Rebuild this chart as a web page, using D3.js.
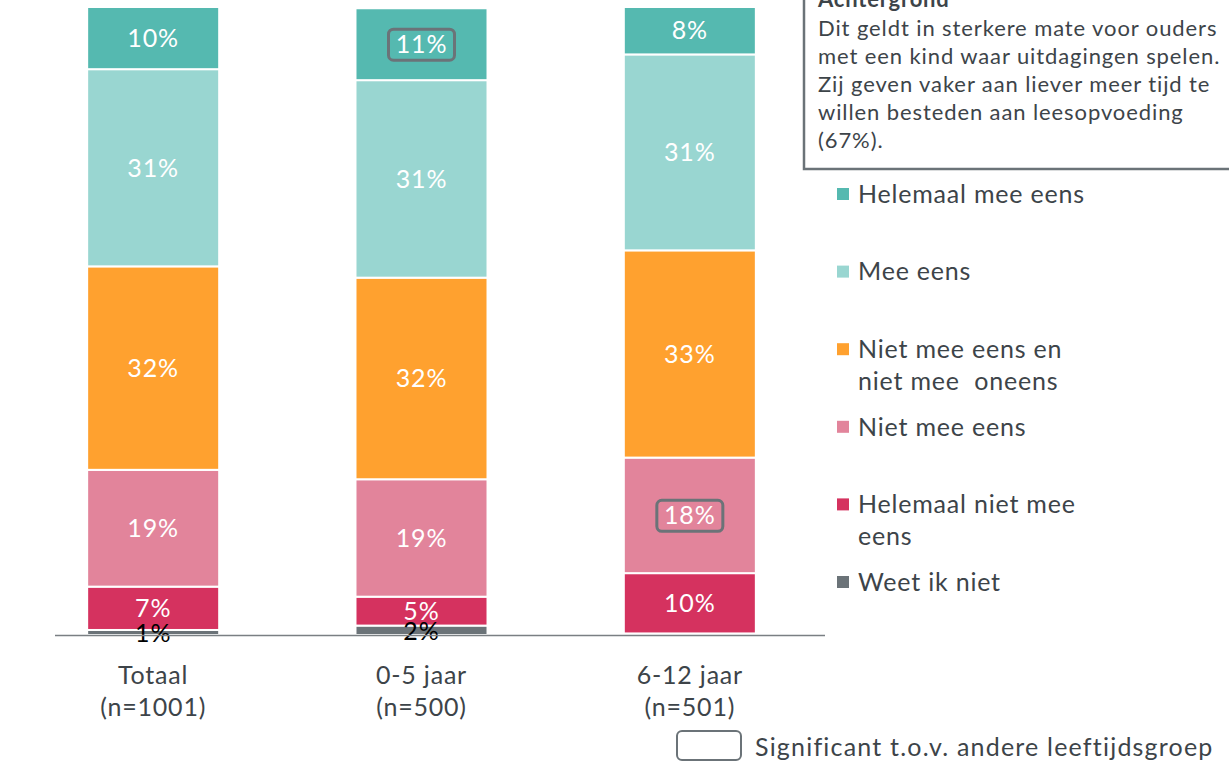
<!DOCTYPE html>
<html>
<head>
<meta charset="utf-8">
<script src="https://cdn.jsdelivr.net/npm/d3@7"></script>
<style>
  body { margin: 0; background: #fff; }
  svg { display: block; font-family: Lato, 'Open Sans', sans-serif; }
  text { white-space: pre; }
</style>
</head>
<body>
<svg id="chart" width="1229" height="761"></svg>
<script>
// data
var categories = ['Totaal', '0-5 jaar', '6-12 jaar']
var sampleSizes = ['(n=1001)', '(n=500)', '(n=501)']

// stacking order: bottom -> top
var seriesNames = [
  'Weet ik niet',
  'Helemaal niet mee eens',
  'Niet mee eens',
  'Niet mee eens en niet mee  oneens',
  'Mee eens',
  'Helemaal mee eens',
]
var legendLines = [
  ['Weet ik niet'],
  ['Helemaal niet mee', 'eens'],
  ['Niet mee eens'],
  ['Niet mee eens en', 'niet mee  oneens'],
  ['Mee eens'],
  ['Helemaal mee eens'],
]
var seriesColors = ['#6b7378', '#d5325f', '#e2849b', '#ffa12f', '#99d6d1', '#55b9b0']

// percentages (unrounded; labels are rounded)
var weetIkNiet      = [0.8, 1.5, 0.25]
var helemaalNiet    = [6.9, 4.6, 9.6]
var nietMeeEens     = [18.6, 18.7, 18.4]
var neutraal        = [32.4, 32.1, 33.0]
var meeEens         = [31.4, 31.45, 31.2]
var helemaalMeeEens = [9.9, 11.45, 7.55]

// labels flagged as significant vs. other age group
var significant = [
  {cat: '0-5 jaar', series: 'Helemaal mee eens'},
  {cat: '6-12 jaar', series: 'Niet mee eens'},
]

var boxTitle = 'Achtergrond'
var boxLines = [
  'Dit geldt in sterkere mate voor ouders',
  'met een kind waar uitdagingen spelen.',
  'Zij geven vaker aan liever meer tijd te',
  'willen besteden aan leesopvoeding',
  '(67%).',
]
var sigLabel = 'Significant t.o.v. andere leeftijdsgroep'

var allValues = [weetIkNiet, helemaalNiet, nietMeeEens, neutraal, meeEens, helemaalMeeEens]

var rows = categories.map((c, i) => {
  var rv = {cat: c}
  seriesNames.forEach((s, j) => rv[s] = allValues[j][i])
  return rv
})

var stacked = d3.stack().keys(seriesNames)(rows)

var textColor = '#3d4449'
var svg = d3.select('#chart')

var x = d3.scaleBand().domain(categories).range([19, 824]).paddingInner(0.508).paddingOuter(0.254)
var y = d3.scaleLinear().domain([0, 100]).range([635, 7])
var color = d3.scaleOrdinal().domain(seriesNames).range(seriesColors)

// bars
var layerSel = svg.append('g').selectAll('g')
  .data(stacked).join('g')
  .attr('fill', d => color(d.key))

layerSel.selectAll('rect')
  .data(d => d.map(v => Object.assign(v, {key: d.key})))
  .join('rect')
  .attr('x', d => x(d.data.cat))
  .attr('width', x.bandwidth())
  .attr('y', d => y(d[1]))
  .attr('height', d => Math.max(0, y(d[0]) - y(d[1])))
  .attr('stroke', '#fff')
  .attr('stroke-width', 2)

// value labels
var labelData = stacked.flatMap(layer => layer.filter(v => v[1] - v[0] >= 0.5))
var small = d => d[1] - d[0] < 3

svg.append('g').selectAll('text')
  .data(labelData).join('text')
  .attr('x', d => x(d.data.cat) + x.bandwidth()/2)
  .attr('y', d => small(d) ? y((d[0] + d[1])/2) + 1 : y((d[0] + d[1])/2))
  .attr('dy', '0.35em')
  .attr('text-anchor', 'middle')
  .attr('font-size', 25)
  .attr('letter-spacing', 0.9)
  .attr('fill', d => small(d) ? '#000' : '#fff')
  .text(d => Math.round(d[1] - d[0]) + '%')

// significance outlines
var sigData = labelData.filter(d => significant.some(s => s.cat == d.data.cat && s.series == d.key))
svg.append('g').selectAll('rect')
  .data(sigData).join('rect')
  .attr('x', d => x(d.data.cat) + x.bandwidth()/2 - 33)
  .attr('y', d => y((d[0] + d[1])/2) - 15)
  .attr('width', 66)
  .attr('height', 31)
  .attr('rx', 5)
  .attr('fill', 'none')
  .attr('stroke', '#6b7378')
  .attr('stroke-width', 3)

// baseline
svg.append('line')
  .attr('x1', 55).attr('x2', 825)
  .attr('y1', y(0) + 0.5).attr('y2', y(0) + 0.5)
  .attr('stroke', '#7a7f83').attr('stroke-width', 1.5)

// category labels
var catSel = svg.append('g').selectAll('text')
  .data(categories).join('text')
  .attr('text-anchor', 'middle')
  .attr('font-size', 25)
  .attr('letter-spacing', 0.8)
  .attr('fill', textColor)
catSel.append('tspan').attr('x', d => x(d) + x.bandwidth()/2).attr('y', 684).text(d => d)
catSel.append('tspan').attr('x', d => x(d) + x.bandwidth()/2).attr('y', 716).text((d, i) => sampleSizes[i])

// text box top right
svg.append('rect')
  .attr('x', 804).attr('y', -10)
  .attr('width', 440).attr('height', 179)
  .attr('fill', '#fff')
  .attr('stroke', '#6b7378').attr('stroke-width', 2.5)

svg.append('text')
  .attr('x', 818).attr('y', 7)
  .attr('font-size', 22).attr('font-weight', 'bold')
  .attr('letter-spacing', 0.8)
  .attr('fill', textColor)
  .text(boxTitle)

svg.append('g').selectAll('text')
  .data(boxLines).join('text')
  .attr('x', 818)
  .attr('y', (d, i) => 35.5 + i*28.2)
  .attr('font-size', 22)
  .attr('letter-spacing', 0.9)
  .attr('fill', textColor)
  .text(d => d)

// legend
var legendOrder = d3.range(seriesNames.length).reverse()
var ly = d3.scalePoint().domain(legendOrder).range([194, 582])

var legSel = svg.append('g').selectAll('g')
  .data(legendOrder).join('g')
  .attr('transform', d => `translate(837, ${ly(d)})`)

legSel.append('rect')
  .attr('x', 0).attr('y', -6)
  .attr('width', 12).attr('height', 12)
  .attr('fill', d => seriesColors[d])

legSel.append('text')
  .attr('font-size', 25)
  .attr('letter-spacing', 0.8)
  .attr('fill', textColor)
  .selectAll('tspan')
  .data(d => legendLines[d]).join('tspan')
  .attr('x', 21)
  .attr('y', (d, i) => i*32)
  .attr('dy', '0.35em')
  .text(d => d)

// significance legend
svg.append('rect')
  .attr('x', 677).attr('y', 731)
  .attr('width', 64).attr('height', 29)
  .attr('rx', 5)
  .attr('fill', 'none')
  .attr('stroke', '#6b7378').attr('stroke-width', 2)

svg.append('text')
  .attr('x', 755).attr('y', 747)
  .attr('dy', '0.35em')
  .attr('font-size', 25)
  .attr('letter-spacing', 1.2)
  .attr('fill', textColor)
  .text(sigLabel)
</script>
</body>
</html>
